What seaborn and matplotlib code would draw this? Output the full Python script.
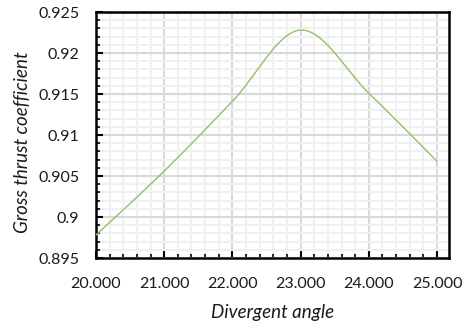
import numpy as np
import pandas as pd
import matplotlib
matplotlib.use("Agg")
import matplotlib.pyplot as plt
import seaborn as sns
from matplotlib.ticker import MultipleLocator, FixedLocator

# ---- data ----
divergent_angle = [20.0, 21.0, 22.0, 23.0, 24.0, 25.0]
gross_thrust_coefficient = [0.8978, 0.9056, 0.9141, 0.9228, 0.9151, 0.9068]
x_tick_values = [20.0, 21.0, 22.0, 23.0, 24.0, 25.0]
x_tick_labels = ["20.000", "21.000", "22.000", "23.000", "24.000", "25.000"]
y_tick_values = [0.895, 0.9, 0.905, 0.91, 0.915, 0.92, 0.925]
y_tick_labels = ["0.895", "0.9", "0.905", "0.91", "0.915", "0.92", "0.925"]
x_label = "Divergent angle"
y_label = "Gross thrust coefficient"


def smooth_curve(xs, ys, n=40):
    """Excel-style smoothed line: cubic Bezier segments through the points."""
    px = np.asarray(xs, float)
    py = np.asarray(ys, float)
    outx, outy = [], []
    m = len(px)
    for i in range(m - 1):
        i0 = max(i - 1, 0)
        i3 = min(i + 2, m - 1)
        p0 = np.array([px[i0], py[i0]])
        p1 = np.array([px[i], py[i]])
        p2 = np.array([px[i + 1], py[i + 1]])
        p3 = np.array([px[i3], py[i3]])
        c1 = p1 + (p2 - p0) / 6.0
        c2 = p2 - (p3 - p1) / 6.0
        t = np.linspace(0, 1, n, endpoint=(i == m - 2))[:, None]
        pts = ((1 - t) ** 3) * p1 + 3 * ((1 - t) ** 2) * t * c1 + 3 * (1 - t) * t ** 2 * c2 + t ** 3 * p2
        outx.extend(pts[:, 0])
        outy.extend(pts[:, 1])
    return np.array(outx), np.array(outy)


sns.set_style("white")
plt.rcParams["font.family"] = ["Lato", "DejaVu Sans"]

fig = plt.figure(figsize=(4.70, 3.31), dpi=100)
ax = fig.add_axes([96 / 470, 1 - 258 / 331, (449 - 96) / 470, (258 - 12) / 331])

sx, sy = smooth_curve(divergent_angle, gross_thrust_coefficient)
df = pd.DataFrame({"x": sx, "y": sy})
sns.lineplot(data=df, x="x", y="y", ax=ax, color="#8dc26b", linewidth=1.0,
             sort=False, estimator=None, zorder=5)

ax.set_xlim(20.0, 25.176)
ax.set_ylim(0.895, 0.925)

ax.xaxis.set_major_locator(FixedLocator(x_tick_values))
ax.set_xticklabels(x_tick_labels)
ax.yaxis.set_major_locator(FixedLocator(y_tick_values))
ax.set_yticklabels(y_tick_labels)
ax.xaxis.set_minor_locator(MultipleLocator(0.2))
ax.yaxis.set_minor_locator(MultipleLocator(0.001))

ax.grid(True, which="minor", color="#f0f0f0", linewidth=1.5, zorder=0)
ax.grid(True, which="major", color="#d9d9d9", linewidth=1.5, zorder=1)
ax.set_axisbelow(True)

ax.tick_params(axis="both", which="major", direction="in", length=5, width=1.5,
               color="black", labelsize=11.5, labelcolor="#1a1a1a",
               bottom=True, left=True, top=False, right=False)
ax.tick_params(axis="x", which="major", pad=14)
ax.tick_params(axis="y", which="major", pad=12)
ax.tick_params(axis="both", which="minor", direction="in", length=3, width=1.2,
               color="black", bottom=True, left=True, top=False, right=False)

for s in ax.spines.values():
    s.set_visible(True)
    s.set_color("black")
    s.set_linewidth(1.8)

ax.set_xlabel(x_label, fontsize=13.5, style="italic", color="#1a1a1a", labelpad=9)
ax.set_ylabel(y_label, fontsize=13.5, style="italic", color="#1a1a1a")
ax.yaxis.set_label_coords(-0.185, 0.47)

fig.savefig("out.png", dpi=100)
